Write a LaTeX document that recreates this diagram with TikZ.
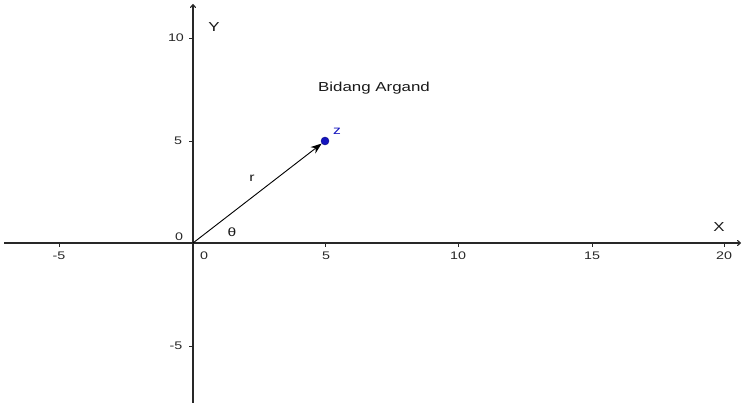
\documentclass[tikz,border=0pt]{standalone}
\usepackage{fontspec}
\setmainfont{Liberation Sans}
\usetikzlibrary{arrows.meta}
\definecolor{axisgray}{RGB}{40,40,40}
\definecolor{zblue}{RGB}{20,20,190}
\tikzset{
  axisline/.style={draw=axisgray, line width=1.1pt, -{To[length=4pt,width=6pt]}},
  tickmark/.style={draw=axisgray, line width=0.9pt},
  ticklabel/.style={font=\fontsize{11}{11}\selectfont, text=black!85, xscale=1.3, inner sep=0pt},
  biglabel/.style={font=\fontsize{13}{13}\selectfont, text=black!90, xscale=1.3, inner sep=0pt},
}
\begin{document}
\begin{tikzpicture}[x=1pt,y=-1pt]
\useasboundingbox (0,0) rectangle (742,403);
% axes
\coordinate (xs) at (4,243);
\coordinate (xe) at (741,243);
\coordinate (ys) at (193,403);
\coordinate (ye) at (193,4);
\coordinate (O) at (193,243);
\draw[axisline] (xs) -- (xe);
\draw[axisline] (ys) -- (ye);
% x ticks
\foreach \px in {59,325,458,592,724} \draw[tickmark] (\px,243) -- (\px,247);
% y ticks
\foreach \py in {38,141,346} \draw[tickmark] (189,\py) -- (193,\py);
% tick labels
\node[ticklabel] (xm5) at (59,256) {-5};
\node[ticklabel] (x0) at (204,256) {0};
\node[ticklabel] (x5) at (326,256) {5};
\node[ticklabel] (x10) at (458,256) {10};
\node[ticklabel] (x15) at (592,256) {15};
\node[ticklabel] (x20) at (724,256) {20};
\node[ticklabel] (y10) at (176,38) {10};
\node[ticklabel] (y5) at (178,141) {5};
\node[ticklabel] (y0) at (179,237) {0};
\node[ticklabel] (ym5) at (176,346) {-5};
% axis names
\node[biglabel] (X) at (719,227) {X};
\node[biglabel] (Y) at (214,27) {Y};
\node[biglabel] (title) at (374,88) {Bidang Argand};
% point z and vector
\node[circle, fill=zblue, draw=zblue!70!black, inner sep=0pt, minimum size=8pt] (z) at (325,141) {};
\node[biglabel, text=zblue, font=\fontsize{12}{12}\selectfont] (zl) at (337,131) {z};
\draw[line width=0.9pt, draw=black, -{Stealth[length=11pt,width=8pt]}] (O) -- (z);
\node[biglabel, font=\fontsize{12}{12}\selectfont] (r) at (252,178) {r};
\node[biglabel, font=\fontsize{12}{12}\selectfont] (th) at (232,232) {θ};
\end{tikzpicture}
\end{document}
